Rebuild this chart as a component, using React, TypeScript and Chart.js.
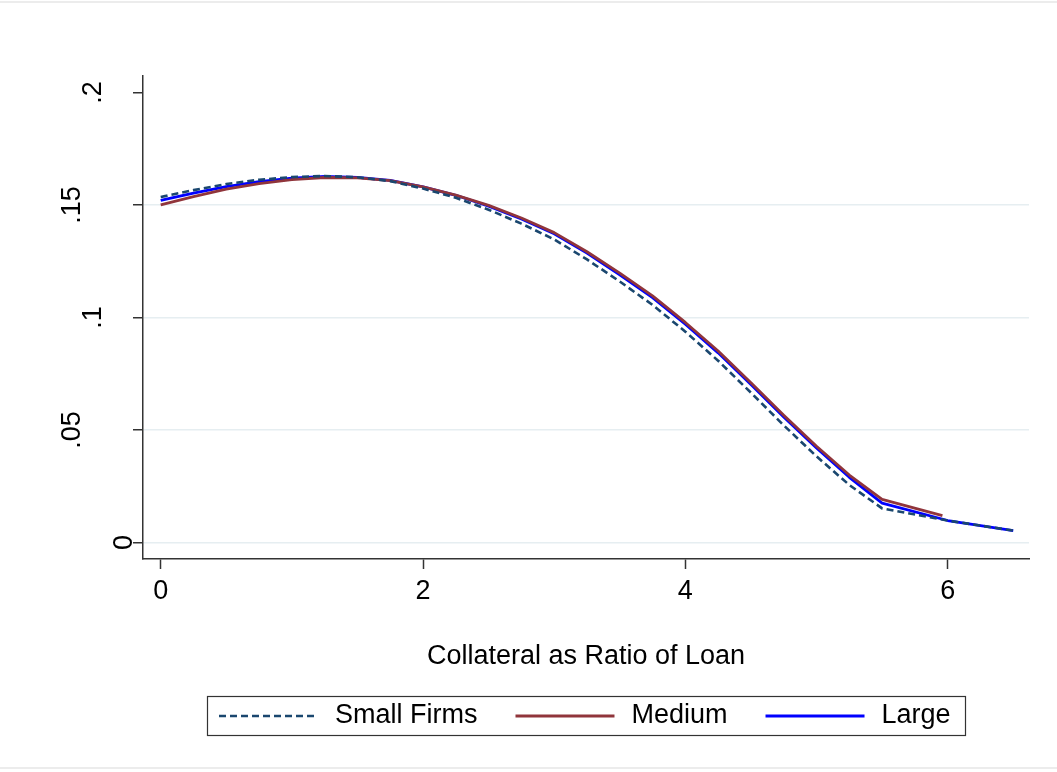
import React, { useEffect, useRef } from 'react';
import { Chart, registerables } from 'chart.js';

Chart.register(...registerables);

// ---- data -------------------------------------------------------------
const collateralGrid = [0, 0.25, 0.5, 0.75, 1, 1.25, 1.5, 1.75, 2, 2.25, 2.5, 2.75, 3, 3.25, 3.5, 3.75, 4, 4.25, 4.5, 4.75, 5, 5.25, 5.5, 6, 6.5];
const mediumGrid = [0, 0.25, 0.5, 0.75, 1, 1.25, 1.5, 1.75, 2, 2.25, 2.5, 2.75, 3, 3.25, 3.5, 3.75, 4, 4.25, 4.5, 4.75, 5, 5.25, 5.5, 5.96];

const smallFirms = [0.1535, 0.1566, 0.1593, 0.1612, 0.1624, 0.1629, 0.1623, 0.1606, 0.1573, 0.1532, 0.1479, 0.1417, 0.1347, 0.1258, 0.116, 0.1056, 0.0937, 0.0808, 0.0666, 0.0521, 0.0383, 0.0256, 0.0152, 0.0098, 0.0053];
const mediumFirms = [0.15, 0.1537, 0.157, 0.1595, 0.1613, 0.1622, 0.162, 0.1608, 0.158, 0.1544, 0.1498, 0.1442, 0.1377, 0.1292, 0.1197, 0.1096, 0.0978, 0.0851, 0.071, 0.0566, 0.0428, 0.03, 0.0192, 0.012];
const largeFirms = [0.152, 0.1553, 0.1582, 0.1604, 0.1619, 0.1627, 0.1623, 0.1609, 0.158, 0.1543, 0.1495, 0.1438, 0.1372, 0.1286, 0.119, 0.1088, 0.097, 0.0843, 0.0702, 0.0558, 0.042, 0.029, 0.0175, 0.0098, 0.0053];

const seriesNames = ['Small Firms', 'Medium', 'Large'];
const xTicks = [0, 2, 4, 6];
const xTickLabels = ['0', '2', '4', '6'];
const yTicks = [0, 0.05, 0.1, 0.15, 0.2];
const yTickLabels = ['0', '.05', '.1', '.15', '.2'];
const xTitle = 'Collateral as Ratio of Loan';

// ---- styling ----------------------------------------------------------
const FONT = '"Liberation Sans", Arial, Helvetica, sans-serif';
const FONT_SIZE = 27;
const AXIS = '#333333';
const GRID = '#e6eef1';
const NAVY = '#1a476f';
const MAROON = '#90353b';
const BLUE = '#0000ff';

const toPoints = (xs: number[], ys: number[]) => ys.map((y, i) => ({ x: xs[i], y }));

// Stata-style rotated y labels, reading bottom-to-top
const rotatedYLabels = {
  id: 'rotatedYLabels',
  afterDraw(chart: any) {
    const scale = chart.scales.y;
    const ctx = chart.ctx;
    const gapByLength: Record<number, number> = { 1: 11, 2: 42, 3: 63 };
    ctx.save();
    ctx.font = `${FONT_SIZE}px ${FONT}`;
    ctx.fillStyle = '#000';
    ctx.textAlign = 'center';
    ctx.textBaseline = 'alphabetic';
    scale.ticks.forEach((t: any) => {
      const py = scale.getPixelForValue(t.value);
      const label = String(t.label);
      const bx = scale.right - (gapByLength[label.length] ?? 42);
      ctx.save();
      ctx.translate(bx, py);
      ctx.rotate(-Math.PI / 2);
      ctx.fillText(label, 0, 0);
      ctx.restore();
    });
    ctx.restore();
  },
};

// Boxed legend under the axis title
const boxedLegend = {
  id: 'boxedLegend',
  afterDraw(chart: any) {
    const ctx = chart.ctx;
    const area = chart.chartArea;
    const sample = 99;
    const gapText = 17;
    const gapItem = 38;
    const padL = 12;
    const padR = 14;
    const top = 696;
    const h = 39;
    ctx.save();
    ctx.font = `${FONT_SIZE}px ${FONT}`;
    const items = chart.data.datasets.map((ds: any) => ({
      label: ds.label,
      color: ds.borderColor,
      dash: ds.borderDash || [],
      width: ds.borderWidth,
      w: ctx.measureText(ds.label).width,
    }));
    const total =
      padL + padR + items.reduce((s: number, it: any) => s + sample + gapText + it.w, 0) + gapItem * (items.length - 1);
    const left = Math.round((area.left + area.right) / 2 - total / 2);
    ctx.strokeStyle = AXIS;
    ctx.lineWidth = 1.2;
    ctx.strokeRect(left + 0.5, top + 0.5, Math.round(total), h);
    const cy = top + h / 2 + 0.5;
    let x = left + padL;
    ctx.textAlign = 'left';
    ctx.textBaseline = 'middle';
    items.forEach((it: any) => {
      ctx.beginPath();
      ctx.setLineDash(it.dash);
      ctx.strokeStyle = it.color;
      ctx.lineWidth = it.width;
      ctx.moveTo(x, cy);
      ctx.lineTo(x + sample, cy);
      ctx.stroke();
      ctx.setLineDash([]);
      ctx.fillStyle = '#000';
      ctx.fillText(it.label, x + sample + gapText, cy);
      x += sample + gapText + it.w + gapItem;
    });
    ctx.restore();
  },
};

// White page with faint frame lines at top and bottom
const pageFrame = {
  id: 'pageFrame',
  beforeDraw(chart: any) {
    const { ctx, width, height } = chart;
    ctx.save();
    ctx.fillStyle = '#ffffff';
    ctx.fillRect(0, 0, width, height);
    ctx.fillStyle = '#ececec';
    ctx.fillRect(0, 1, width, 2);
    ctx.fillRect(0, height - 5, width, 2);
    ctx.restore();
  },
};

export default function App() {
  const canvasRef = useRef<HTMLCanvasElement | null>(null);

  useEffect(() => {
    if (!canvasRef.current) return;
    const font = { family: FONT, size: FONT_SIZE };
    const chart = new Chart(canvasRef.current, {
      type: 'line',
      data: {
        datasets: [
          {
            label: seriesNames[0],
            data: toPoints(collateralGrid, smallFirms),
            borderColor: NAVY,
            borderWidth: 2.6,
            borderDash: [7, 4],
          },
          {
            label: seriesNames[1],
            data: toPoints(mediumGrid, mediumFirms),
            borderColor: MAROON,
            borderWidth: 2.8,
          },
          {
            label: seriesNames[2],
            data: toPoints(collateralGrid, largeFirms),
            borderColor: BLUE,
            borderWidth: 2.8,
          },
        ],
      },
      options: {
        animation: false,
        responsive: true,
        maintainAspectRatio: false,
        layout: { padding: { top: 76, right: 28, left: 0, bottom: 0 } },
        elements: {
          point: { radius: 0, hoverRadius: 0 },
          line: { tension: 0, fill: false, borderJoinStyle: 'round', borderCapStyle: 'butt' },
        },
        plugins: { legend: { display: false }, tooltip: { enabled: false } },
        scales: {
          x: {
            type: 'linear',
            min: -0.135,
            max: 6.62,
            afterBuildTicks: (s: any) => {
              s.ticks = xTicks.map((v) => ({ value: v }));
            },
            afterFit: (s: any) => {
              s.height = 213;
            },
            grid: { drawOnChartArea: false, drawTicks: true, tickLength: 10, tickColor: AXIS, tickWidth: 1.5 },
            border: { display: true, color: AXIS, width: 1.5 },
            ticks: {
              font,
              color: '#000',
              padding: 6,
              maxRotation: 0,
              autoSkip: false,
              callback: (v: any) => xTickLabels[xTicks.indexOf(Number(v))] ?? '',
            },
            title: {
              display: true,
              text: xTitle,
              color: '#000',
              font,
              padding: { top: 0, bottom: 99 },
            },
          },
          y: {
            type: 'linear',
            min: -0.0073,
            max: 0.2073,
            afterBuildTicks: (s: any) => {
              s.ticks = yTicks.map((v) => ({ value: v }));
            },
            afterFit: (s: any) => {
              s.width = 143;
            },
            grid: {
              color: (c: any) => (c.tick && c.tick.value >= 0.2 ? 'rgba(0,0,0,0)' : GRID),
              lineWidth: 1.5,
              drawTicks: true,
              tickLength: 10,
              tickColor: AXIS,
              tickWidth: 1.5,
            },
            border: { display: true, color: AXIS, width: 1.5 },
            ticks: {
              font,
              color: 'rgba(0,0,0,0)',
              autoSkip: false,
              callback: (v: any) => {
                const i = yTicks.findIndex((t) => Math.abs(t - Number(v)) < 1e-9);
                return i >= 0 ? yTickLabels[i] : '';
              },
            },
          },
        },
      },
      plugins: [pageFrame, rotatedYLabels, boxedLegend],
    });
    return () => chart.destroy();
  }, []);

  return (
    <div style={{ position: 'fixed', left: 0, top: 0, width: 1057, height: 772, background: '#fff' }}>
      <canvas ref={canvasRef} />
    </div>
  );
}
